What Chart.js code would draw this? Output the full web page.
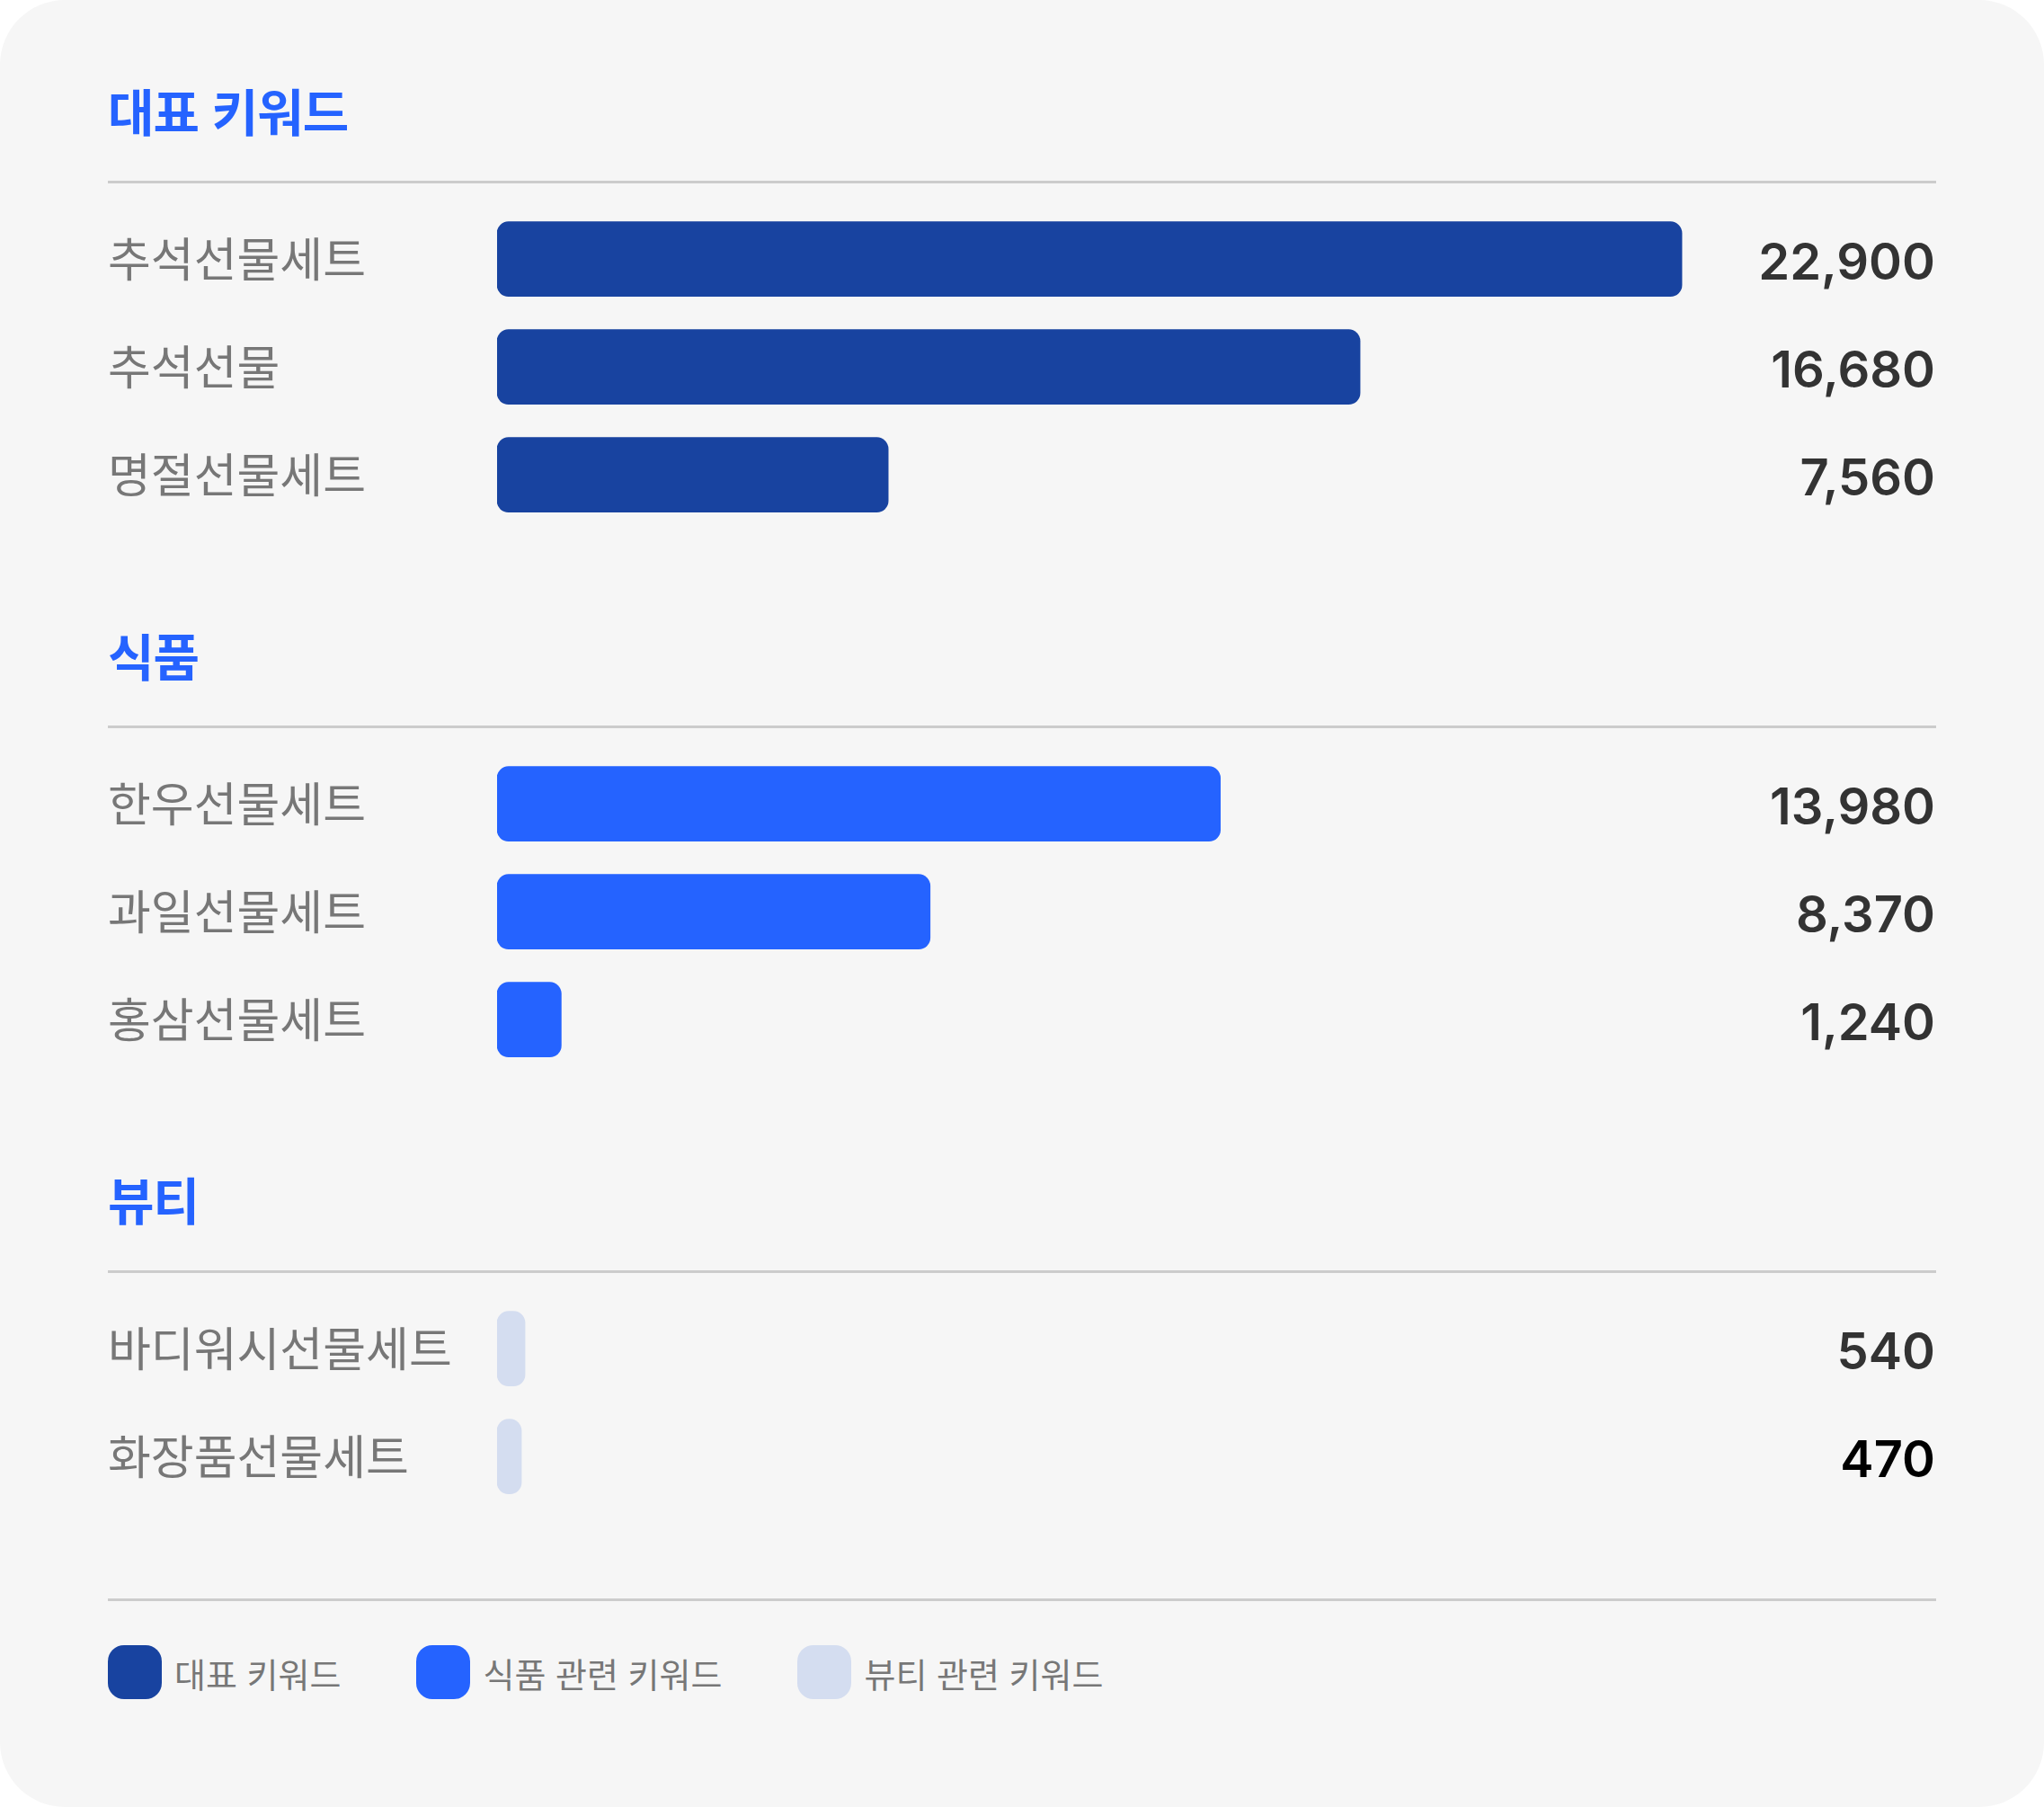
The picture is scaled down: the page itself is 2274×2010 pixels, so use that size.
<!DOCTYPE html>
<html lang="ko">
<head>
<meta charset="utf-8">
<title>선물세트 키워드</title>
<script src="https://cdn.jsdelivr.net/npm/chart.js@4.4.1/dist/chart.umd.min.js"></script>
<style>
  html, body { margin: 0; padding: 0; background: #ffffff; }
  .card {
    position: relative; width: 2274px; height: 2010px;
    background: #f6f6f6; border-radius: 72px; overflow: hidden;
    font-family: 'Noto Sans CJK KR', 'Noto Sans', sans-serif;
  }
  .section-title {
    position: absolute; left: 120px; height: 70px; line-height: 70px;
    font-size: 56px; font-weight: 700; color: #2563ff;
    letter-spacing: -1px; white-space: nowrap;
  }
  .divider { position: absolute; left: 120px; width: 2034px; height: 3px; background: #cccccc; }
  .chart-box { position: absolute; left: 120px; width: 2034px; }
  .legend { position: absolute; left: 120px; top: 1830px; height: 60px; display: flex; align-items: center; }
  .legend-item { display: flex; align-items: center; margin-right: 84px; }
  .legend-swatch { width: 60px; height: 60px; border-radius: 18px; margin-right: 14px; }
  .legend-text { font-size: 38px; color: #777777; white-space: nowrap; }
</style>
</head>
<body>
<div class="card" id="card">
  <div class="divider" style="top: 1778px;"></div>
  <div class="legend" id="legend"></div>
</div>
<script>
const sectionTitles = ['대표 키워드', '식품', '뷰티'];
const legendLabels = ['대표 키워드', '식품 관련 키워드', '뷰티 관련 키워드'];

const mainLabels = ['추석선물세트', '추석선물', '명절선물세트'];
const mainValues = [22900, 16680, 7560];

const foodLabels = ['한우선물세트', '과일선물세트', '홍삼선물세트'];
const foodValues = [13980, 8370, 1240];

const beautyLabels = ['바디워시선물세트', '화장품선물세트'];
const beautyValues = [540, 470];

const xMax = 25000;
const barColors = ['#1843a0', '#2563ff', '#d4ddf0'];

// page layout for each block (px)
const blocks = [
  { labels: mainLabels, values: mainValues, titleTop: 87, dividerTop: 201, chartTop: 228, valueColors: ['#333', '#333', '#333'] },
  { labels: foodLabels, values: foodValues, titleTop: 693, dividerTop: 807, chartTop: 834, valueColors: ['#333', '#333', '#333'] },
  { labels: beautyLabels, values: beautyValues, titleTop: 1298, dividerTop: 1413, chartTop: 1440, valueColors: ['#333', '#000'] }
];
const rowHeight = 120;
const labelSize = 52;
// chart.js keeps half a label height free above and below the y axis
const edgePad = labelSize * 1.2 / 2;

// numbers at the right end of each row
const valueLabels = {
  id: 'valueLabels',
  afterDraw(chart, args, opts) {
    const { ctx, scales: { y } } = chart;
    const data = chart.data.datasets[0].data;
    ctx.save();
    ctx.font = '600 56px Inter';
    ctx.textAlign = 'right';
    ctx.textBaseline = 'middle';
    data.forEach((v, i) => {
      ctx.fillStyle = opts.colors[i];
      ctx.fillText(v.toLocaleString('en-US'), chart.width - 1, y.getPixelForValue(i) + 6);
    });
    ctx.restore();
  }
};

const card = document.getElementById('card');

blocks.forEach((b, idx) => {
  const title = document.createElement('div');
  title.className = 'section-title';
  title.style.top = b.titleTop + 'px';
  title.textContent = sectionTitles[idx];
  card.appendChild(title);

  const line = document.createElement('div');
  line.className = 'divider';
  line.style.top = b.dividerTop + 'px';
  card.appendChild(line);

  const box = document.createElement('div');
  box.className = 'chart-box';
  box.style.top = (b.chartTop - edgePad) + 'px';
  box.style.height = (b.labels.length * rowHeight + edgePad * 2) + 'px';
  const canvas = document.createElement('canvas');
  box.appendChild(canvas);
  card.appendChild(box);

  new Chart(canvas, {
    type: 'bar',
    data: {
      labels: b.labels,
      datasets: [{
        label: legendLabels[idx],
        data: b.values,
        backgroundColor: barColors[idx],
        borderRadius: 13,
        borderSkipped: false,
        barThickness: 83
      }]
    },
    options: {
      indexAxis: 'y',
      responsive: true,
      maintainAspectRatio: false,
      animation: false,
      events: [],
      layout: { padding: { left: 0, right: 162, top: 0, bottom: 0 } },
      plugins: {
        legend: { display: false },
        tooltip: { enabled: false },
        valueLabels: { colors: b.valueColors }
      },
      scales: {
        x: { display: false, min: 0, max: xMax },
        y: {
          grid: { display: false },
          border: { display: false },
          afterFit: (scale) => { scale.width = 433; },
          ticks: {
            crossAlign: 'far',
            padding: 0,
            color: '#777777',
            font: { family: 'Noto Sans CJK KR', size: labelSize, weight: 400 }
          }
        }
      }
    },
    plugins: [valueLabels]
  });
});

const legend = document.getElementById('legend');
legendLabels.forEach((txt, i) => {
  const item = document.createElement('div');
  item.className = 'legend-item';
  const sw = document.createElement('span');
  sw.className = 'legend-swatch';
  sw.style.background = barColors[i];
  const label = document.createElement('span');
  label.className = 'legend-text';
  label.textContent = txt;
  item.appendChild(sw);
  item.appendChild(label);
  legend.appendChild(item);
});
</script>
</body>
</html>
